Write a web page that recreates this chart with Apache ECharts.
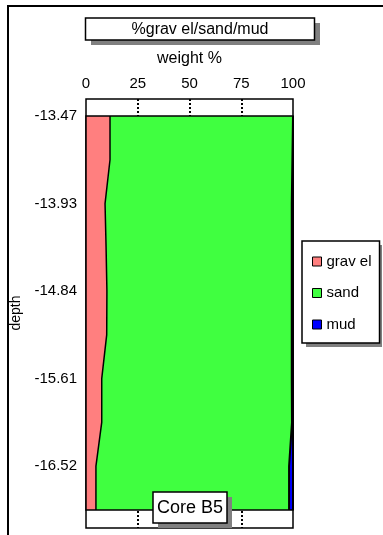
<!DOCTYPE html>
<html>
<head>
<meta charset="utf-8">
<script src="https://cdn.jsdelivr.net/npm/echarts@6/dist/echarts.min.js"></script>
<style>
  html, body { margin: 0; padding: 0; background: #fff; }
  #chart { width: 383px; height: 535px; }
</style>
</head>
<body>
<div id="chart"></div>
<script>
// Core B5 grain-size profile: weight % of gravel / sand / mud down the core
const seriesNames = ['grav el', 'sand', 'mud'];
const depthTicks = ['-13.47', '-13.93', '-14.84', '-15.61', '-16.52'];
const sampleIds = ['1', '2', '3', '4', '5', '6', '7', '8', '9', '10'];
const gravel = [11.6, 11.6, 9.2, 9.7, 10.1, 10.0, 7.6, 7.6, 4.8, 4.8];
const sand   = [88.4, 88.1, 90.2, 89.7, 89.3, 89.4, 91.8, 91.9, 93.3, 93.3];
const mud    = [0.0, 0.3, 0.6, 0.6, 0.6, 0.6, 0.6, 0.5, 1.9, 1.9];
const weightTicks = [0, 25, 50, 75, 100];

const FONT = '"Liberation Sans", Arial, sans-serif';
const fills = ['#FF7F7F', '#40FF40', '#0000FF'];
const values = [gravel, sand, mud];

const chart = echarts.init(document.getElementById('chart'), null, { renderer: 'canvas' });

const series = seriesNames.map((name, i) => ({
  name: name,
  type: 'line',
  xAxisIndex: 1,
  yAxisIndex: 1,
  stack: 'weight',
  data: values[i],
  symbol: 'none',
  showSymbol: false,
  z: 5 - i,
  lineStyle: { color: '#000', width: i === 0 ? 1.5 : 2 },
  itemStyle: { color: fills[i] },
  areaStyle: { color: fills[i], opacity: 1 }
}));

chart.setOption({
  animation: false,
  textStyle: { fontFamily: FONT, color: '#000' },
  grid: [
    { left: 86, right: 90, top: 99, bottom: 7, show: true, borderColor: '#000', borderWidth: 1.5, backgroundColor: '#fff' },
    { left: 86, right: 90, top: 116, bottom: 25, show: true, borderColor: '#000', borderWidth: 1.5, backgroundColor: 'transparent', z: 10 }
  ],
  xAxis: [
    {
      gridIndex: 0, type: 'value', position: 'top',
      min: weightTicks[0], max: weightTicks[weightTicks.length - 1], interval: 25,
      name: 'weight %', nameLocation: 'middle', nameGap: 32,
      nameTextStyle: { fontSize: 16, color: '#000', fontFamily: FONT },
      axisLine: { show: false }, axisTick: { show: false },
      axisLabel: { fontSize: 15, color: '#000', margin: 8, fontFamily: FONT },
      splitLine: { show: true, showMinLine: false, showMaxLine: false, lineStyle: { color: '#000', width: 2, type: [2, 2] } }
    },
    { gridIndex: 1, type: 'value', min: 0, max: 100, show: false }
  ],
  yAxis: [
    { gridIndex: 0, type: 'value', min: 0, max: 1, show: false },
    {
      gridIndex: 1, type: 'category', data: sampleIds, inverse: true, boundaryGap: false,
      axisLine: { show: false }, axisTick: { show: false }, splitLine: { show: false },
      axisLabel: {
        interval: 0, fontSize: 15, color: '#000', margin: 9, fontFamily: FONT,
        formatter: (v, i) => (i % 2 === 0 ? depthTicks[i / 2] : '')
      },
      name: 'depth', nameLocation: 'middle', nameGap: 57, nameRotate: 90,
      nameTextStyle: { fontSize: 14, color: '#000', fontFamily: FONT }
    }
  ],
  legend: {
    orient: 'vertical',
    left: 302, top: 241,
    padding: [13, 8, 11, 10],
    itemGap: 16.5,
    itemWidth: 9, itemHeight: 9, itemTextGap: 0,
    icon: 'rect',
    itemStyle: { borderColor: '#000', borderWidth: 1 },
    textStyle: { fontSize: 15, lineHeight: 15, color: '#000', fontFamily: FONT },
    backgroundColor: '#fff',
    borderColor: '#000', borderWidth: 1.5,
    selectedMode: false,
    z: 30,
    data: seriesNames.map((n, i) => ({ name: n, itemStyle: { color: fills[i] } }))
  },
  graphic: [
    // outer frame
    { type: 'rect', z: 1, shape: { x: 8, y: 6, width: 500, height: 600 }, style: { fill: null, stroke: '#000', lineWidth: 2 } },
    // legend drop shadow
    { type: 'rect', z: 1, shape: { x: 306, y: 245, width: 76, height: 102 }, style: { fill: '#808080' } },
    // heading box
    { type: 'rect', z: 20, shape: { x: 91, y: 23, width: 229, height: 22 }, style: { fill: '#808080' } },
    { type: 'rect', z: 21, shape: { x: 85.5, y: 18, width: 229, height: 22 }, style: { fill: '#fff', stroke: '#000', lineWidth: 1.5 } },
    { type: 'text', z: 22, x: 200, y: 29.5, style: { text: '%grav el/sand/mud', fontSize: 16, fontFamily: FONT, fill: '#000', align: 'center', verticalAlign: 'middle', textAlign: 'center', textVerticalAlign: 'middle' } },
    // core name box
    { type: 'rect', z: 20, shape: { x: 158, y: 497, width: 74, height: 31 }, style: { fill: '#808080' } },
    { type: 'rect', z: 21, shape: { x: 153, y: 492, width: 74, height: 31 }, style: { fill: '#fff', stroke: '#000', lineWidth: 1.5 } },
    { type: 'text', z: 22, x: 190, y: 508, style: { text: 'Core B5', fontSize: 18, fontFamily: FONT, fill: '#000', align: 'center', verticalAlign: 'middle', textAlign: 'center', textVerticalAlign: 'middle' } }
  ],
  series: series
});
</script>
</body>
</html>
